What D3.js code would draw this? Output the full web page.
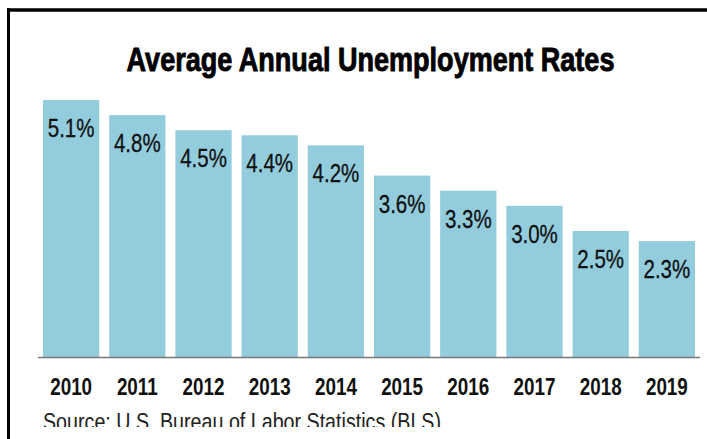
<!DOCTYPE html>
<html>
<head>
<meta charset="utf-8">
<script src="https://cdn.jsdelivr.net/npm/d3@7"></script>
<style>
  html, body { margin: 0; padding: 0; background: #fff; }
  svg { display: block; }
</style>
</head>
<body>
<script>
// Chart size
var w = 707;
var h = 439;

// Data
var years = ["2010", "2011", "2012", "2013", "2014", "2015", "2016", "2017", "2018", "2019"];
var rates = [5.1, 4.8, 4.5, 4.4, 4.2, 3.6, 3.3, 3.0, 2.5, 2.3];
var title = "Average Annual Unemployment Rates";
var source = "Source:  U.S. Bureau of Labor Statistics (BLS)";

// No narrow font installed, so squeeze Liberation Sans horizontally
var font = "'Liberation Sans', Arial, sans-serif";
var squeeze = 0.82;
function place(x, y) {
    return "translate(" + x + "," + y + ") scale(" + squeeze + ",1)";
}

// Plot area
var baseY = 357;
var xScale = d3.scaleBand()
               .domain(years)
               .range([43, 695])
               .paddingInner(0.15)
               .paddingOuter(0);

var yScale = d3.scaleLinear()
               .domain([0, 5.1])
               .range([baseY, 100]);

var svg = d3.select("body")
            .append("svg")
            .attr("width", w)
            .attr("height", h);

// Frame (top and left edges only)
svg.append("line")
   .attr("x1", 7).attr("x2", w)
   .attr("y1", 10).attr("y2", 10)
   .attr("stroke", "#000")
   .attr("stroke-width", 3.4);
svg.append("line")
   .attr("x1", 8.5).attr("x2", 8.5)
   .attr("y1", 8.3).attr("y2", h)
   .attr("stroke", "#000")
   .attr("stroke-width", 3);

// Title
svg.append("text")
   .attr("transform", place(370.5, 71))
   .attr("text-anchor", "middle")
   .attr("font-family", font)
   .attr("font-weight", "bold")
   .attr("font-size", "33px")
   .attr("stroke", "#000")
   .attr("stroke-width", 0.9)
   .attr("fill", "#000")
   .text(title);

// Bars
svg.selectAll("rect.bar")
   .data(rates)
   .enter()
   .append("rect")
   .attr("class", "bar")
   .attr("x", function(d, i) { return xScale(years[i]); })
   .attr("y", function(d) { return yScale(d); })
   .attr("width", xScale.bandwidth())
   .attr("height", function(d) { return baseY - yScale(d); })
   .attr("fill", "#93cddd");

// Value labels inside the bars
svg.selectAll("text.val")
   .data(rates)
   .enter()
   .append("text")
   .attr("class", "val")
   .attr("transform", function(d, i) {
       return place(xScale(years[i]) + xScale.bandwidth() / 2, yScale(d) + 37);
   })
   .attr("text-anchor", "middle")
   .attr("font-family", font)
   .attr("font-size", "25px")
   .attr("fill", "#111")
   .attr("stroke", "#111")
   .attr("stroke-width", 0.3)
   .text(function(d) { return d.toFixed(1) + "%"; });

// Baseline
svg.append("line")
   .attr("x1", 38).attr("x2", 700)
   .attr("y1", baseY + 0.5).attr("y2", baseY + 0.5)
   .attr("stroke", "#777")
   .attr("stroke-width", 1.5);

// Year labels
svg.selectAll("text.year")
   .data(years)
   .enter()
   .append("text")
   .attr("class", "year")
   .attr("transform", function(d) {
       return place(xScale(d) + xScale.bandwidth() / 2, 395);
   })
   .attr("text-anchor", "middle")
   .attr("font-family", font)
   .attr("font-weight", "bold")
   .attr("font-size", "23px")
   .attr("fill", "#111")
   .text(function(d) { return d; });

// Source line, clipped at the bottom like the original
svg.append("clipPath")
   .attr("id", "srcClip")
   .append("rect")
   .attr("x", 0).attr("y", 400)
   .attr("width", w).attr("height", 27);

svg.append("g")
   .attr("clip-path", "url(#srcClip)")
   .append("text")
   .attr("transform", place(43, 430))
   .attr("font-family", font)
   .attr("font-size", "24px")
   .attr("fill", "#222")
   .text(source);
</script>
</body>
</html>
